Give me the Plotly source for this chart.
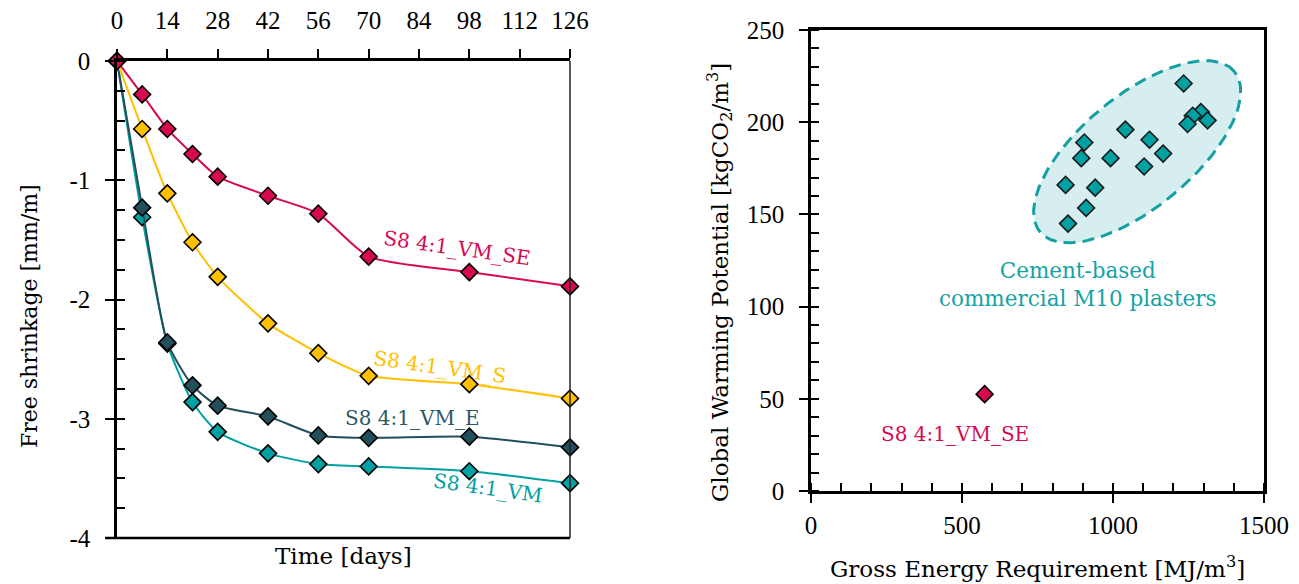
import numpy as np
import plotly.graph_objects as go

# ---------------- data ----------------
days = [0, 7, 14, 21, 28, 42, 56, 70, 98, 126]
shrink_SE = [0, -0.28, -0.57, -0.78, -0.97, -1.13, -1.28, -1.64, -1.77, -1.89]
shrink_S = [0, -0.57, -1.11, -1.52, -1.81, -2.20, -2.45, -2.64, -2.71, -2.83]
shrink_E = [0, -1.23, -2.36, -2.72, -2.89, -2.98, -3.14, -3.16, -3.15, -3.24]
shrink_VM = [0, -1.31, -2.37, -2.86, -3.11, -3.29, -3.38, -3.40, -3.44, -3.54]
day_ticks = [0, 14, 28, 42, 56, 70, 84, 98, 112, 126]
shrink_ticks = [0, -1, -2, -3, -4]
shrink_ticktext = ["0", "-1", "-2", "-3", "-4"]

ger_commercial = [1234, 1291, 1264, 1313, 1247, 1041, 905, 1121, 1166, 895,
                  992, 1103, 843, 941, 911, 851]
gwp_commercial = [221, 205.5, 203.5, 201, 199, 196, 189, 190.5, 183, 180.5,
                  180.5, 176, 166, 164.5, 153.5, 145]
ger_se = [575]
gwp_se = [52.5]

# ---------------- style ----------------
C_SE = "#D7094F"
C_S = "#FFC000"
C_E = "#234E5C"
C_VM = "#00A0A3"
C_TEAL_TXT = "#14A3A6"
TICK_FONT = "Liberation Serif"
TXT_FONT = "DejaVu Serif"
W, H = 1299, 584

def px_x(p):
    return p / W

def px_y(p):
    return 1 - p / H

L_DOM_X = [px_x(117), px_x(570)]
L_DOM_Y = [px_y(538), px_y(61)]
R_DOM_X = [px_x(811), px_x(1264)]
R_DOM_Y = [px_y(491), px_y(30)]

fig = go.Figure()

def series(x, y, color, name):
    fig.add_trace(go.Scatter(
        x=x, y=y, mode="lines+markers", name=name,
        line=dict(color=color, width=2, shape="spline", smoothing=0.6),
        marker=dict(symbol="diamond", size=13, color=color,
                    line=dict(color="black", width=1.6)),
        xaxis="x", yaxis="y", showlegend=False, cliponaxis=False))

series(days, shrink_VM, C_VM, "S8 4:1_VM")
series(days, shrink_E, C_E, "S8 4:1_VM_E")
series(days, shrink_S, C_S, "S8 4:1_VM_S")
series(days, shrink_SE, C_SE, "S8 4:1_VM_SE")

# ellipse around commercial plasters (pixel-space geometry converted to data)
xr, yr = [0, 1500], [0, 250]
x_per_px = (xr[1] - xr[0]) / (1264 - 811)
y_per_px = (yr[1] - yr[0]) / (491 - 30)
ell_cx, ell_cy = 1080, 184
ell_a, ell_b, ell_ang = 126, 56, np.deg2rad(39.5)
t = np.linspace(0, 2 * np.pi, 200)
dx = ell_a * np.cos(ell_ang) * np.cos(t) - ell_b * np.sin(ell_ang) * np.sin(t)
dy = ell_a * np.sin(ell_ang) * np.cos(t) + ell_b * np.cos(ell_ang) * np.sin(t)
fig.add_trace(go.Scatter(
    x=ell_cx + dx * x_per_px, y=ell_cy + dy * y_per_px,
    mode="lines", fill="toself", fillcolor="rgba(0,150,160,0.16)",
    line=dict(color="#16A0A3", width=3, dash="12px,7px"),
    xaxis="x2", yaxis="y2", showlegend=False, hoverinfo="skip"))

fig.add_trace(go.Scatter(
    x=ger_commercial, y=gwp_commercial, mode="markers",
    marker=dict(symbol="diamond", size=13, color=C_VM,
                line=dict(color="#1a1a1a", width=1.6)),
    xaxis="x2", yaxis="y2", showlegend=False))
fig.add_trace(go.Scatter(
    x=ger_se, y=gwp_se, mode="markers",
    marker=dict(symbol="diamond", size=13, color=C_SE,
                line=dict(color="black", width=1.6)),
    xaxis="x2", yaxis="y2", showlegend=False))

tickfont = dict(family=TICK_FONT, size=25, color="black")
ax_common = dict(showgrid=False, zeroline=False, showline=True,
                 linecolor="black", linewidth=2.5, tickcolor="black",
                 tickwidth=2, ticklen=9, ticks="outside", tickfont=tickfont,
                 automargin=False)
ov_common = dict(ticks="inside", ticklen=9, tickwidth=2, tickcolor="black",
                 showticklabels=False, showgrid=False, zeroline=False,
                 showline=False, automargin=False)

fig.update_layout(
    width=W, height=H,
    margin=dict(l=0, r=0, t=0, b=0, pad=0, autoexpand=False),
    paper_bgcolor="white", plot_bgcolor="white",
    font=dict(family=TXT_FONT, color="black"),
    # left chart
    xaxis=dict(**ax_common, domain=L_DOM_X, range=[0, 126], side="top",
               anchor="y", tickvals=day_ticks, ticklabelstandoff=10),
    yaxis=dict(**ax_common, domain=L_DOM_Y, range=[-4, 0], anchor="x",
               tickvals=shrink_ticks, ticktext=shrink_ticktext,
               ticklabelstandoff=10,
               minor=dict(ticks="inside", dtick=0.25, ticklen=8,
                          tickwidth=1.5, tickcolor="black")),
    xaxis3=dict(**ov_common, overlaying="x", range=[0, 126], side="top",
                anchor="y", tickvals=day_ticks),
    yaxis3=dict(**ov_common, overlaying="y", range=[-4, 0], anchor="x",
                tickvals=shrink_ticks),
    # right chart
    xaxis2=dict(**ax_common, domain=R_DOM_X, range=xr, anchor="y2",
                dtick=500, mirror=True, ticklabelstandoff=1,
                minor=dict(ticks="inside", dtick=100, ticklen=8,
                           tickwidth=1.5, tickcolor="black")),
    yaxis2=dict(**ax_common, domain=R_DOM_Y, range=yr, anchor="x2",
                dtick=50, mirror=True, ticklabelstandoff=10,
                minor=dict(ticks="inside", dtick=10, ticklen=8,
                           tickwidth=1.5, tickcolor="black")),
    xaxis4=dict(**ov_common, overlaying="x2", range=xr, anchor="y2",
                dtick=500),
    yaxis4=dict(**ov_common, overlaying="y2", range=yr, anchor="x2",
                dtick=50),
)

# left chart frame: bottom and thin right line
fig.add_shape(type="line", xref="x domain", yref="y domain",
              x0=-0.026, x1=1, y0=0, y1=0,
              line=dict(color="black", width=2.5))
fig.add_shape(type="line", xref="x domain", yref="y domain",
              x0=1, x1=1, y0=0, y1=1,
              line=dict(color="#222222", width=1.5))

def note(x, y, text, size, color, xref="paper", yref="paper", angle=0):
    return dict(x=x, y=y, xref=xref, yref=yref, text=text, showarrow=False,
                textangle=angle, xanchor="center", yanchor="middle",
                font=dict(family=TXT_FONT, size=size, color=color))

ann = [
    note(94.6, -1.57, "S8 4:1_VM_SE", 20, C_SE, "x", "y", 8),
    note(89.8, -2.57, "S8 4:1_VM_S", 20, C_S, "x", "y", 8),
    note(82.3, -2.99, "S8 4:1_VM_E", 20, "#2E5866", "x", "y"),
    note(103.2, -3.58, "S8 4:1_VM", 20, C_VM, "x", "y", 8),
    note(px_x(343), px_y(556), "Time [days]", 23, "black"),
    note(px_x(29), px_y(316), "Free shrinkage [mm/m]", 22, "black",
         angle=-90),
    note(884, 112, "Cement-based<br>commercial M10 plasters", 21.5,
         C_TEAL_TXT, "x2", "y2"),
    note(477, 31, "S8 4:1_VM_SE", 20, C_SE, "x2", "y2"),
    note(px_x(1037), px_y(567),
         "Gross Energy Requirement [MJ/m<sup>3</sup>]", 23, "black"),
    note(px_x(719), px_y(283),
         "Global Warming Potential [kgCO<sub>2</sub>/m<sup>3</sup>]", 23,
         "black", angle=-90),
]
fig.update_layout(annotations=ann)

fig.write_html("out.html")
